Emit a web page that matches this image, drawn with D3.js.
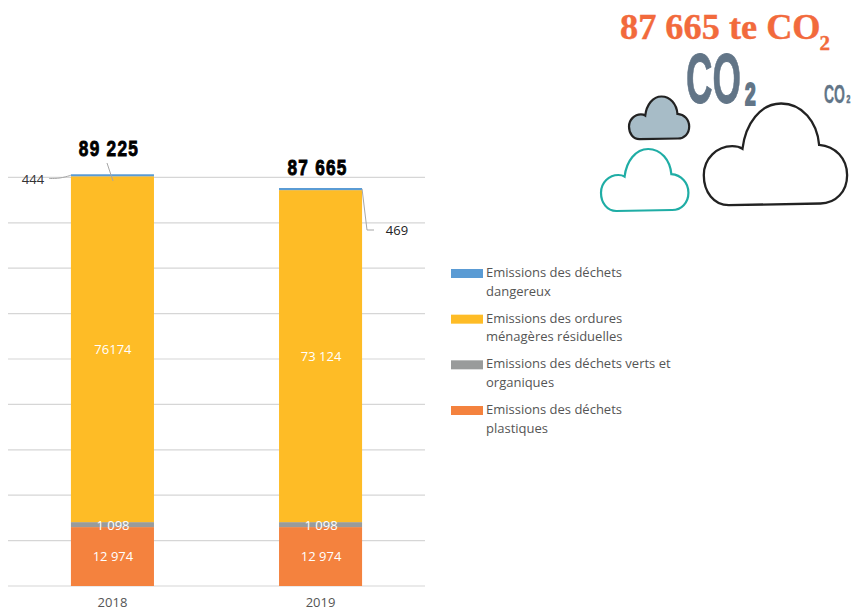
<!DOCTYPE html>
<html><head><meta charset="utf-8">
<script src="https://cdn.jsdelivr.net/npm/d3@7"></script>
<style>html,body{margin:0;padding:0;background:#fff}svg{display:block}text{font-family:"Open Sans",sans-serif}</style>
</head><body><svg id="c" width="854" height="611"></svg>
<script>
const years = ["2018","2019"];
const seriesNames = ["Emissions des déchets plastiques","Emissions des déchets verts et organiques","Emissions des ordures ménagères résiduelles","Emissions des déchets dangereux"];
const plastiques = [12974,12974];
const verts = [1098,1098];
const ordures = [76174,73124];
const dangereux = [444,469];
const totals = ["89 225","87 665"];
const valueLabels = [["12 974","12 974"],["1 098","1 098"],["76174","73 124"],["444","469"]];
const gridValues = [0,10000,20000,30000,40000,50000,60000,70000,80000,90000];
const colors = ["#f4823e","#999b9b","#febc26","#5a9bd4"];
const legendOrder = [
  {i:3,lines:["Emissions des déchets","dangereux"]},
  {i:2,lines:["Emissions des ordures","ménagères résiduelles"]},
  {i:1,lines:["Emissions des déchets verts et","organiques"]},
  {i:0,lines:["Emissions des déchets","plastiques"]}];

const svg = d3.select("#c");
const x = d3.scaleBand().domain(years).range([8.5,424.5]).paddingInner(0.601).paddingOuter(0.3);
const y = d3.scaleLinear().domain([0,90000]).range([586,177.4]);

svg.append("g").selectAll("line").data(gridValues).join("line")
  .attr("x1",8).attr("x2",425).attr("y1",d=>y(d)).attr("y2",d=>y(d))
  .attr("stroke","#d6d6d6").attr("stroke-width",1.2);

const rows = years.map((yr,k)=>({yr,a:plastiques[k],b:verts[k],c:ordures[k],d:dangereux[k]}));
const stacked = d3.stack().keys(["a","b","c","d"])(rows);
svg.append("g").selectAll("g").data(stacked).join("g").attr("fill",(d,i)=>colors[i])
  .selectAll("rect").data(d=>d).join("rect")
  .attr("x",d=>x(d.data.yr)).attr("width",x.bandwidth())
  .attr("y",d=>y(d[1])).attr("height",d=>y(d[0])-y(d[1]));

// value labels inside bars
[0,1,2].forEach(s=>{
  svg.append("g").selectAll("text").data(stacked[s]).join("text")
    .attr("x",d=>x(d.data.yr)+x.bandwidth()/2+0.5)
    .attr("y",d=>(y(d[0])+y(d[1]))/2+(s===1?5:4.5))
    .attr("text-anchor","middle").attr("fill","#fff").attr("font-size",13)
    .text((d,i)=>valueLabels[s][i]);
});

// outside labels + leaders
const line = d3.line().curve(d3.curveBasis);
const lx0 = x("2018"), lx1 = x("2019")+x.bandwidth();
const top0 = y(d3.sum([plastiques[0],verts[0],ordures[0],dangereux[0]]));
const top1 = y(d3.sum([plastiques[1],verts[1],ordures[1],dangereux[1]]));
svg.append("path").attr("d",line([[49,178.5],[49,178.5],[60,178.5],[lx0,top0+1],[lx0,top0+1]])).attr("fill","none").attr("stroke","#a6a6a6").attr("stroke-width",1);
svg.append("path").attr("d",d3.line()([[107,163],[113,181]])).attr("fill","none").attr("stroke","#a6a6a6").attr("stroke-width",1);
svg.append("path").attr("d",d3.line()([[lx1,top1+1],[367,230],[374,230]])).attr("fill","none").attr("stroke","#a6a6a6").attr("stroke-width",1);
svg.append("text").attr("x",33).attr("y",184).attr("text-anchor","middle").attr("font-size",13).attr("fill","#333").text(valueLabels[3][0]);
svg.append("text").attr("x",397).attr("y",235).attr("text-anchor","middle").attr("font-size",13).attr("fill","#222").text(valueLabels[3][1]);

// totals
svg.append("g").selectAll("text").data(years).join("text")
  .attr("transform",(d,i)=>`translate(${x(d)+x.bandwidth()/2-(i===0?3.5:3)},${i===0?156:175}) scale(0.86,1.08)`)
  .attr("text-anchor","middle")
  .attr("font-size",20).attr("font-weight",700).attr("fill","#000")
  .attr("stroke","#000").attr("stroke-width",0.8)
  .style("font-family","'Liberation Sans',sans-serif")
  .style("letter-spacing","1.5px")
  .text((d,i)=>totals[i]);

// year axis labels
svg.append("g").selectAll("text").data(years).join("text")
  .attr("x",d=>x(d)+x.bandwidth()/2).attr("y",607)
  .attr("text-anchor","middle").attr("font-size",13).attr("fill","#555").text(d=>d);

// legend
const legendY = d3.scaleLinear().domain([0,3]).range([273.5,410.5]);
const lg = svg.append("g").selectAll("g").data(legendOrder).join("g")
  .attr("transform",(d,i)=>`translate(451,${legendY(i)})`);
lg.append("rect").attr("x",0).attr("y",-4.5).attr("width",32).attr("height",9).attr("fill",d=>colors[d.i]);
lg.selectAll("text").data(d=>d.lines).join("text")
  .attr("x",35).attr("y",(d,i)=>3.5+i*18.6)
  .attr("font-size",13).attr("fill","#555").text(d=>d);

// heading
const title = svg.append("text").attr("x",620).attr("y",39).attr("fill","#f26a3c")
  .attr("stroke","#f26a3c").attr("stroke-width",0.4)
  .attr("font-weight",700).attr("font-size",36.3).style("font-family","'Liberation Serif',serif");
title.append("tspan").text("87 665 te CO");
title.append("tspan").attr("dy",11).attr("dx",-1).attr("font-size",21).text("2");

// CO2 glyphs
function co2(px,py,w,size){
  const t = svg.append("g").attr("transform",`translate(${px},${py})`)
    .attr("fill","#627587").attr("stroke","#627587").attr("stroke-width",size*0.012).attr("font-weight",700);
  t.append("text").attr("transform","scale(0.58,1.06)").attr("font-size",size)
    .attr("textLength",w/0.58).attr("lengthAdjust","spacingAndGlyphs").style("font-family","'Liberation Sans',sans-serif").text("CO");
  t.append("text").attr("transform",`translate(${w+size*0.06},${size*0.035}) scale(0.66,1.06)`)
    .attr("stroke-width",size*0.03)
    .attr("font-size",size*0.44).style("font-family","'Liberation Sans',sans-serif").text("2");
}
co2(686,102.5,55,66);
co2(824,102.5,21,23.5);

// clouds
const cloud = "M75 305C30 305 0 265 0 215C0 165 40 128 85 128C100 128 110 132 116 136C125 60 170 0 232 0C295 0 340 55 346 124C395 128 430 165 430 215C430 265 395 300 350 300Z";
const clouds = [
 {tx:703.8,ty:103.5,s:0.3333,fill:"#fff",stroke:"#222",w:2.3},
 {tx:601,ty:149,s:0.2033,fill:"#fff",stroke:"#1fada5",w:2.2},
 {tx:629,ty:96.5,s:0.14,fill:"#a7bcc7",stroke:"#222",w:2.2}];
svg.append("g").selectAll("path").data(clouds).join("path")
  .attr("d",cloud).attr("transform",d=>`translate(${d.tx},${d.ty}) scale(${d.s})`)
  .attr("fill",d=>d.fill).attr("stroke",d=>d.stroke).attr("stroke-width",d=>d.w)
  .attr("vector-effect","non-scaling-stroke");
</script></body></html>
